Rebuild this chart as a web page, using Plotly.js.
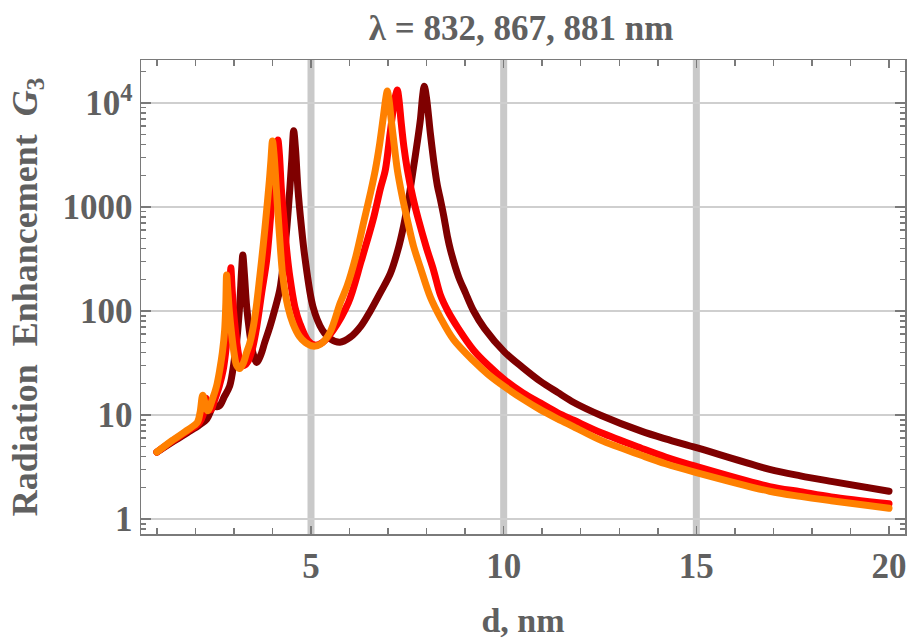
<!DOCTYPE html>
<html>
<head>
<meta charset="utf-8">
<script src="https://cdn.plot.ly/plotly-3.0.1.min.js"></script>
<style>
  html, body { margin: 0; padding: 0; background: #ffffff; }
  #chart { width: 911px; height: 639px; }
  .js-line { stroke-linejoin: round !important; stroke-linecap: round !important; }
</style>
</head>
<body>
<div id="chart"></div>
<script>
// ---- data ----
const seriesNames = ["881 nm", "867 nm", "832 nm"];
const seriesColors = ["#7f0000", "#ff0000", "#ff8000"];

// dark red curve
const dDark = [1.0,1.4,1.8,2.1,2.3, 2.4,2.47,2.55,2.63,2.75, 2.89,3.0,3.08,3.15,3.2, 3.23,3.27,3.33,3.4,3.49, 3.59,3.7,3.8,3.93,4.05, 4.19,4.3,4.375,4.45,4.5, 4.55,4.6,4.66,4.75,4.84, 5.05,5.29,5.5,5.75,6.02, 6.3,6.54,6.8,7.06,7.25, 7.4,7.55,7.66,7.75,7.84, 7.9,7.94,8.0,8.1,8.2, 8.28,8.36,8.45,8.54,8.62, 8.83,9.0,9.22,9.5,10.03, 10.5,10.96,11.4,11.82,12.53, 13.57,14.2,15,16.9,17.7, 18.5,20];
const gDark = [4.4,5.5,6.8,8.0,9.2, 11,13,12,12.3,15, 19,32,55,115,250, 345,230,110,65,40, 32,38,50,70,100, 160,330,645,1500,2800, 5400,3500,1500,650,330, 110,66,54,50,56, 72,100,150,230,380, 650,1300,2400,4000,7000, 12000,14500,11000,5000,2500, 1600,1170,800,520,385, 213,152,100,68,40, 28.5,21,16.5,13.2,9.9, 7.0,5.9,4.85,3.0,2.6, 2.3,1.85];

// red curve
const dRed = [1.0,1.4,1.8,2.1,2.2, 2.27,2.33,2.4,2.5,2.62, 2.72,2.8,2.86,2.89,2.92, 2.95,2.99,3.05,3.11,3.18, 3.27,3.37,3.47,3.59,3.72, 3.85,3.95,4.04,4.1,4.14, 4.18,4.23,4.3,4.37,4.45, 4.58,4.71,4.92,5.1,5.3, 5.57,5.97,6.3,6.61,6.8, 6.93,7.05,7.14,7.2,7.24, 7.28,7.34,7.41,7.5,7.64, 7.79,8.0,8.18,8.36,8.55, 8.8,9.22,9.6,10.03,10.5, 10.96,11.4,11.82,12.53,13.57, 14.2,15,16.9,17.7,18.5, 20];
const gRed = [4.4,5.6,7.0,8.4,10, 14.5,12.5,11.2,14,19, 27,45,80,130,260, 170,100,60,40,31, 30,33,42,70,150, 310,800,1950,3400,4400, 3200,1500,750,380,213, 110,76,52,47,50, 65,120,300,750,1500, 2280,5000,9000,12000,13300, 11000,6500,3800,2280,1250, 750,400,247,142,100, 70,42,30,21.7,16.3, 13,10.5,8.9,6.75,4.8, 3.95,3.2,2.05,1.83,1.63, 1.40];

// orange curve
const dOrange = [1.0,1.4,1.8,2.05,2.12, 2.19,2.25,2.32,2.45,2.55, 2.63,2.7,2.76,2.79,2.81, 2.84,2.88,2.94,3.0,3.07, 3.15,3.25,3.33,3.41,3.5, 3.58,3.67,3.76,3.85,3.92, 3.96,4.0,4.04,4.1,4.18, 4.27,4.4,4.53,4.7,4.85, 5.05,5.25,5.49,5.76,5.94, 6.15,6.38,6.55,6.67,6.78, 6.88,6.94,6.98,7.02,7.08, 7.15,7.24,7.36,7.5,7.66, 7.84,8.1,8.36,8.7,9.22, 9.6,10.03,10.5,10.96,11.4, 11.82,12.53,13.57,14.2,15, 16.9,17.7,18.5,20];
const gOrange = [4.4,5.7,7.2,8.5,10.5, 15.5,13,11,14.5,19, 27,40,66,120,222, 160,100,60,40,30, 28,32,40,49,70, 110,213,430,940,1800, 2800,4300,3200,1500,550, 213,110,76,57,50, 46,48,62,120,175, 320,750,1400,2280,4000, 7500,11000,13000,11000,7000, 4200,2280,1300,750,420, 260,135,86,53,33, 24.5,18.6,14.2,11.2,9.2, 7.7,5.7,4.1,3.4,2.8, 1.85,1.65,1.5,1.27];

// axis text
const titleText = "λ = 832, 867, 881 nm";
const xTitle = "d, nm";
const yTitle = "Radiation\u00a0\u00a0Enhancement\u00a0\u00a0<i>G</i><sub>3</sub>";
const yTickVals = [1, 10, 100, 1000, 10000];
const yTickText = ["1", "10", "100", "1000", "10<sup>4</sup>"];
const xTickVals = [5, 10, 15, 20];
const xTickText = ["5", "10", "15", "20"];
const gridX = [5, 10, 15];

// ---- chart ----
const xs = [dDark, dRed, dOrange];
const ys = [gDark, gRed, gOrange];
const traces = xs.map((x, i) => ({
  x: x, y: ys[i], type: "scatter", mode: "lines", name: seriesNames[i],
  line: { color: seriesColors[i], width: 7, shape: "spline", smoothing: 0.9 },
  hoverinfo: "x+y"
}));

const txtColor = "#606060";
const serif = "Liberation Serif, Times New Roman, serif";
const frameColor = "#7a7a7a";

const layout = {
  width: 911, height: 639,
  margin: { l: 141, r: 6, t: 60, b: 105 },
  paper_bgcolor: "#ffffff", plot_bgcolor: "#ffffff",
  showlegend: false,
  title: {
    text: titleText, x: 0.572, xanchor: "center", xref: "container",
    y: 1 - 28 / 639, yanchor: "middle", yref: "container",
    font: { family: serif, size: 35, color: txtColor, weight: "bold" }
  },
  xaxis: {
    type: "linear", range: [0.588, 20.415],
    tickmode: "array", tickvals: xTickVals, ticktext: xTickText,
    ticks: "inside", ticklen: 8, tickwidth: 1.5, tickcolor: frameColor,
    minor: { tickmode: "linear", tick0: 0, dtick: 1, ticks: "inside", ticklen: 6, tickwidth: 1.5, tickcolor: frameColor, showgrid: false },
    showgrid: false, zeroline: false,
    showline: true, linecolor: frameColor, linewidth: 1.5, mirror: "ticks",
    tickfont: { family: serif, size: 35, color: txtColor, weight: "bold" },
    title: { text: xTitle, standoff: 26, font: { family: serif, size: 34, color: txtColor, weight: "bold" } }
  },
  yaxis: {
    type: "log", range: [-0.144, 4.413],
    tickmode: "array", tickvals: yTickVals, ticktext: yTickText,
    ticks: "inside", ticklen: 10, tickwidth: 1.5, tickcolor: frameColor,
    minor: { tickmode: "linear", dtick: "D1", ticks: "inside", ticklen: 5, tickwidth: 1.5, tickcolor: frameColor, showgrid: false },
    showgrid: true, gridcolor: "#cfcfcf", gridwidth: 2,
    zeroline: false,
    showline: true, linecolor: frameColor, linewidth: 1.5, mirror: "ticks",
    tickfont: { family: serif, size: 35, color: txtColor, weight: "bold" },
    title: { text: yTitle, standoff: 14, font: { family: serif, size: 36, color: txtColor, weight: "bold" } }
  },
  shapes: gridX.map(v => ({
    type: "line", xref: "x", yref: "paper", x0: v, x1: v, y0: 0, y1: 1,
    line: { color: "#c9c9c9", width: 7 }, layer: "below"
  }))
};

Plotly.newPlot("chart", traces, layout, { displayModeBar: false, staticPlot: true });
</script>
</body>
</html>
